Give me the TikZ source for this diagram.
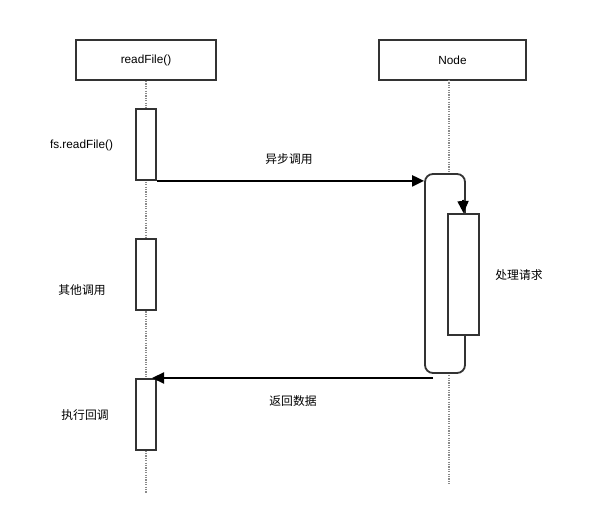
\documentclass[tikz,border=0pt]{standalone}
\usepackage{fontspec}
\setmainfont{Liberation Sans}
\newfontfamily\cjk{Noto Sans CJK SC}
\usetikzlibrary{arrows.meta}
\definecolor{boxline}{HTML}{333333}
\definecolor{lifegray}{HTML}{8A8A8A}
\begin{document}
\begin{tikzpicture}[x=1pt,y=-1pt,
  every node/.style={font=\fontsize{11.8}{13}\selectfont},
  header/.style={draw=boxline,line width=2pt,fill=white,minimum width=140pt,minimum height=40pt,inner sep=0pt},
  actbox/.style={draw=boxline,line width=1.8pt,fill=white,inner sep=0pt},
  life/.style={draw=lifegray,line width=2.4pt,dash pattern=on 1.3pt off 1.1pt},
  msg/.style={draw=black,line width=2.2pt,-{Triangle[length=12pt,width=11pt]}},
  lbl/.style={inner sep=0pt}]
\useasboundingbox[fill=white] (0,0) rectangle (613,518);
% headers
\node[header] (rf) at (146,60) {readFile()};
\node[header,minimum width=147pt] (nd) at (452.5,60) {Node};
% lifelines
\coordinate (rfend) at (146,493);
\coordinate (ndend) at (449,485);
\draw[life] (rf.south) -- (rfend);
\draw[life] (449,80) -- (ndend);
% left activations
\node[actbox,minimum width=20pt,minimum height=71pt] (a1) at (146,144.5) {};
\node[actbox,minimum width=20pt,minimum height=71pt] (a2) at (146,274.5) {};
\node[actbox,minimum width=20pt,minimum height=71pt] (a3) at (146,414.5) {};
% right big rounded
\node[draw=boxline,line width=1.8pt,fill=white,rounded corners=8pt,minimum width=40pt,minimum height=199pt,inner sep=0pt] (big) at (445,273.5) {};
\coordinate (selftop) at (463,200);
\node[actbox,minimum width=31pt,minimum height=121pt] (inner) at (463.5,274.5) {};
\draw[black,line width=1.8pt,-{Triangle[length=12pt,width=11pt]}] (selftop) -- (inner.north);
% messages
\draw[msg] (a1.south east) -- (big.west |- a1.south east);
\coordinate (retstart) at (433,378);
\coordinate (retend) at (152,378);
\draw[msg] (retstart) -- (retend);
% labels
\node[lbl] (l1) at (81.5,145) {fs.readFile()};
\node[lbl] (l2) at (82,290) {\cjk 其他调用};
\node[lbl] (l3) at (85,415) {\cjk 执行回调};
\node[lbl] (l4) at (519,275) {\cjk 处理请求};
\node[lbl] (m1) at (289,159) {\cjk 异步调用};
\node[lbl] (m2) at (293,401) {\cjk 返回数据};
\end{tikzpicture}
\end{document}
